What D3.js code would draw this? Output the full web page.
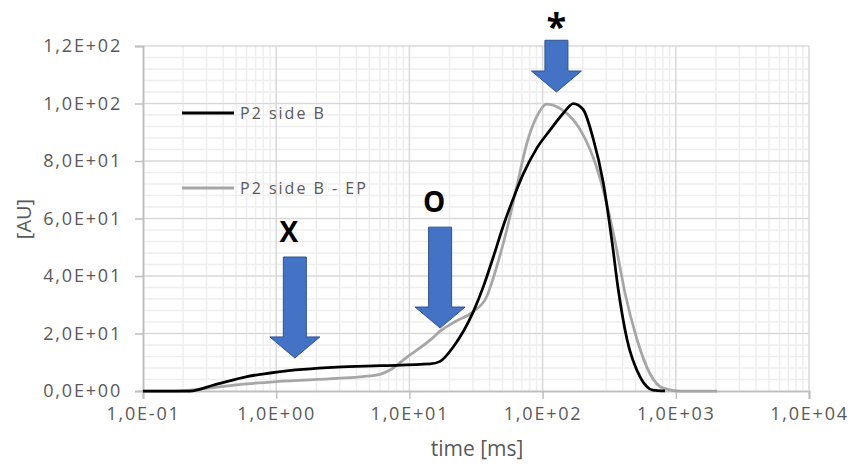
<!DOCTYPE html>
<html>
<head>
<meta charset="utf-8">
<script src="https://cdn.jsdelivr.net/npm/d3@7/dist/d3.min.js"></script>
<style>
  body { margin: 0; background: #fff; }
  text { font-family: "Open Sans", sans-serif; }
</style>
</head>
<body>
<div id="vis"></div>
<script>
// P2 side B
var sideBTime  = [0.1, 0.225, 0.335, 0.604, 1.01, 2.86, 6.02, 14.3, 17.0, 21.4, 30.2, 35.9, 42.7, 50.7, 60.3, 71.6, 90.3, 114,  143,  170, 201, 239, 284, 332, 368, 430, 538, 674, 830];
var sideBValue = [0,   0,     2,     5,     6.6,  8.3,  8.8,  9.4,  10.3, 15.4, 27.6, 36.3, 46.7, 57.5, 67,   75.5, 84.4, 90.8, 96.6, 100, 98,  88,  73,  52,  36,  18,  5,   0.3, 0];

// P2 side B - EP
var sideBEPTime  = [0.1, 0.174, 0.335, 0.604, 1.01, 2.86, 4.48, 6.02, 7.15, 9.59, 14.3, 17.0, 22.0, 30.2, 38.0, 45.2, 53.8, 63.9, 76.0, 90.3, 107,  135,  170,  191, 270, 350, 416, 511, 640, 801, 1076, 2040];
var sideBEPValue = [0,   0,     1.2,   2.5,   3.3,  4.4,  5.0,  5.8,  7.3,  11.8, 17.7, 20.8, 24.1, 27.6, 32.8, 43.2, 56,   71,   86,   95.4, 99.8, 98.3, 94.3, 91,  74,  52,  34,  18,  6,   1,   0,    0];

var seriesNames = ['P2 side B', 'P2 side B - EP'];

// arrows: time, value at top of shaft, value at tip, label
var markTime  = [1.38, 17.0, 127];
var markTop   = [46.6, 57, 122];
var markTip   = [11.5, 21.9, 104];
var markLabel = ['X', 'O', '*'];

var xTicks = [0.1, 1, 10, 100, 1000, 10000];
var yTicks = [0, 20, 40, 60, 80, 100, 120];

var width = 855, height = 466;
var plotLeft = 143, plotRight = 809, plotTop = 46, plotBottom = 391;

var svg = d3.select('#vis').append('svg')
  .attr('width', width)
  .attr('height', height);

var x = d3.scaleLog().domain([0.1, 10000]).range([plotLeft, plotRight]);
var y = d3.scaleLinear().domain([0, 120]).range([plotBottom, plotTop]);

function sci(v) {
  if (v === 0) return '0,0E+00';
  var e = Math.floor(Math.log10(v) + 1e-9);
  var m = v / Math.pow(10, e);
  var es = (e < 0 ? '-' : '+') + (Math.abs(e) < 10 ? '0' : '') + Math.abs(e);
  return m.toFixed(1).replace('.', ',') + 'E' + es;
}

// minor grid
var minorX = [];
for (var d = -1; d < 4; d++) {
  for (var k = 2; k <= 9; k++) minorX.push(k * Math.pow(10, d));
}
var minorY = d3.range(0, 121, 4).filter(function (v) { return v % 20 !== 0; });

var grid = svg.append('g');
grid.selectAll('.mx').data(minorX).enter().append('line')
  .attr('x1', function (d) { return x(d); }).attr('x2', function (d) { return x(d); })
  .attr('y1', plotTop).attr('y2', plotBottom)
  .attr('stroke', '#eeeeee').attr('stroke-width', 1.5);
grid.selectAll('.my').data(minorY).enter().append('line')
  .attr('x1', plotLeft).attr('x2', plotRight)
  .attr('y1', function (d) { return y(d); }).attr('y2', function (d) { return y(d); })
  .attr('stroke', '#eeeeee').attr('stroke-width', 1.5);
grid.selectAll('.gx').data(xTicks.slice(1)).enter().append('line')
  .attr('x1', function (d) { return x(d); }).attr('x2', function (d) { return x(d); })
  .attr('y1', plotTop).attr('y2', plotBottom)
  .attr('stroke', '#d9d9d9').attr('stroke-width', 1.5);
grid.selectAll('.gy').data(yTicks.slice(1)).enter().append('line')
  .attr('x1', plotLeft).attr('x2', plotRight)
  .attr('y1', function (d) { return y(d); }).attr('y2', function (d) { return y(d); })
  .attr('stroke', '#d9d9d9').attr('stroke-width', 1.5);

// axes
var xAxis = svg.append('g')
  .attr('transform', 'translate(0,' + plotBottom + ')')
  .call(d3.axisBottom(x).tickValues(xTicks).tickFormat(sci).tickSize(8).tickPadding(8));
var yAxis = svg.append('g')
  .attr('transform', 'translate(' + plotLeft + ',0)')
  .call(d3.axisLeft(y).tickValues(yTicks).tickFormat(sci).tickSize(8).tickPadding(13));

[xAxis, yAxis].forEach(function (a) {
  a.attr('font-size', null).attr('font-family', null);
  a.select('.domain').attr('stroke', '#bfbfbf').attr('stroke-width', 2);
  a.selectAll('.tick line').attr('stroke', '#bfbfbf').attr('stroke-width', 1.5);
  a.selectAll('.tick text')
    .attr('fill', '#595959')
    .style('font-size', '18px')
    .style('letter-spacing', '1.8px');
});

svg.append('text')
  .attr('x', (plotLeft + plotRight) / 2 + 1)
  .attr('y', 456)
  .attr('text-anchor', 'middle')
  .attr('fill', '#595959')
  .style('font-size', '21px')
  .text('time [ms]');

svg.append('text')
  .attr('transform', 'translate(31,219) rotate(-90)')
  .attr('text-anchor', 'middle')
  .attr('fill', '#595959')
  .style('font-size', '20px')
  .text('[AU]');

// curves
var line = d3.line()
  .x(function (d) { return x(d.t); })
  .y(function (d) { return y(d.v); })
  .curve(d3.curveMonotoneX);

var epData = sideBEPTime.map(function (t, i) { return { t: t, v: sideBEPValue[i] }; });
var bData = sideBTime.map(function (t, i) { return { t: t, v: sideBValue[i] }; });

svg.append('path').datum(epData)
  .attr('d', line).attr('fill', 'none')
  .attr('stroke', '#a6a6a6').attr('stroke-width', 2.75);
svg.append('path').datum(bData)
  .attr('d', line).attr('fill', 'none')
  .attr('stroke', '#000').attr('stroke-width', 2.75);

// legend
var legend = svg.append('g');
var legendColors = ['#000', '#a6a6a6'];
var legendY = [113, 188];
seriesNames.forEach(function (name, i) {
  legend.append('line')
    .attr('x1', 182).attr('x2', 234)
    .attr('y1', legendY[i]).attr('y2', legendY[i])
    .attr('stroke', legendColors[i]).attr('stroke-width', 3);
  legend.append('text')
    .attr('x', 240).attr('y', legendY[i] + 5.5)
    .attr('fill', '#595959')
    .style('font-size', '16px')
    .style('letter-spacing', '2px')
    .text(name);
});

// arrows
var shaftHalf = 11.5, headHalf = 25, headLen = 21;
function arrowPath(cx, y0, y1) {
  var hy = y1 - headLen;
  return 'M' + (cx - shaftHalf) + ',' + y0 +
    'L' + (cx + shaftHalf) + ',' + y0 +
    'L' + (cx + shaftHalf) + ',' + hy +
    'L' + (cx + headHalf) + ',' + hy +
    'L' + cx + ',' + y1 +
    'L' + (cx - headHalf) + ',' + hy +
    'L' + (cx - shaftHalf) + ',' + hy + 'Z';
}

markTime.forEach(function (t, i) {
  var cx = x(t);
  svg.append('path')
    .attr('d', arrowPath(cx, y(markTop[i]), y(markTip[i])))
    .attr('fill', '#4472c4')
    .attr('stroke', '#2f528f')
    .attr('stroke-width', 1);
  var isStar = markLabel[i] === '*';
  svg.append('text')
    .attr('x', cx + (isStar ? 0 : -6))
    .attr('y', y(markTop[i]) - (isStar ? 1 : 15))
    .attr('text-anchor', 'middle')
    .attr('fill', '#000')
    .style('font-size', isStar ? '36px' : '28px')
    .style('font-weight', 'bold')
    .text(markLabel[i]);
});
</script>
</body>
</html>
